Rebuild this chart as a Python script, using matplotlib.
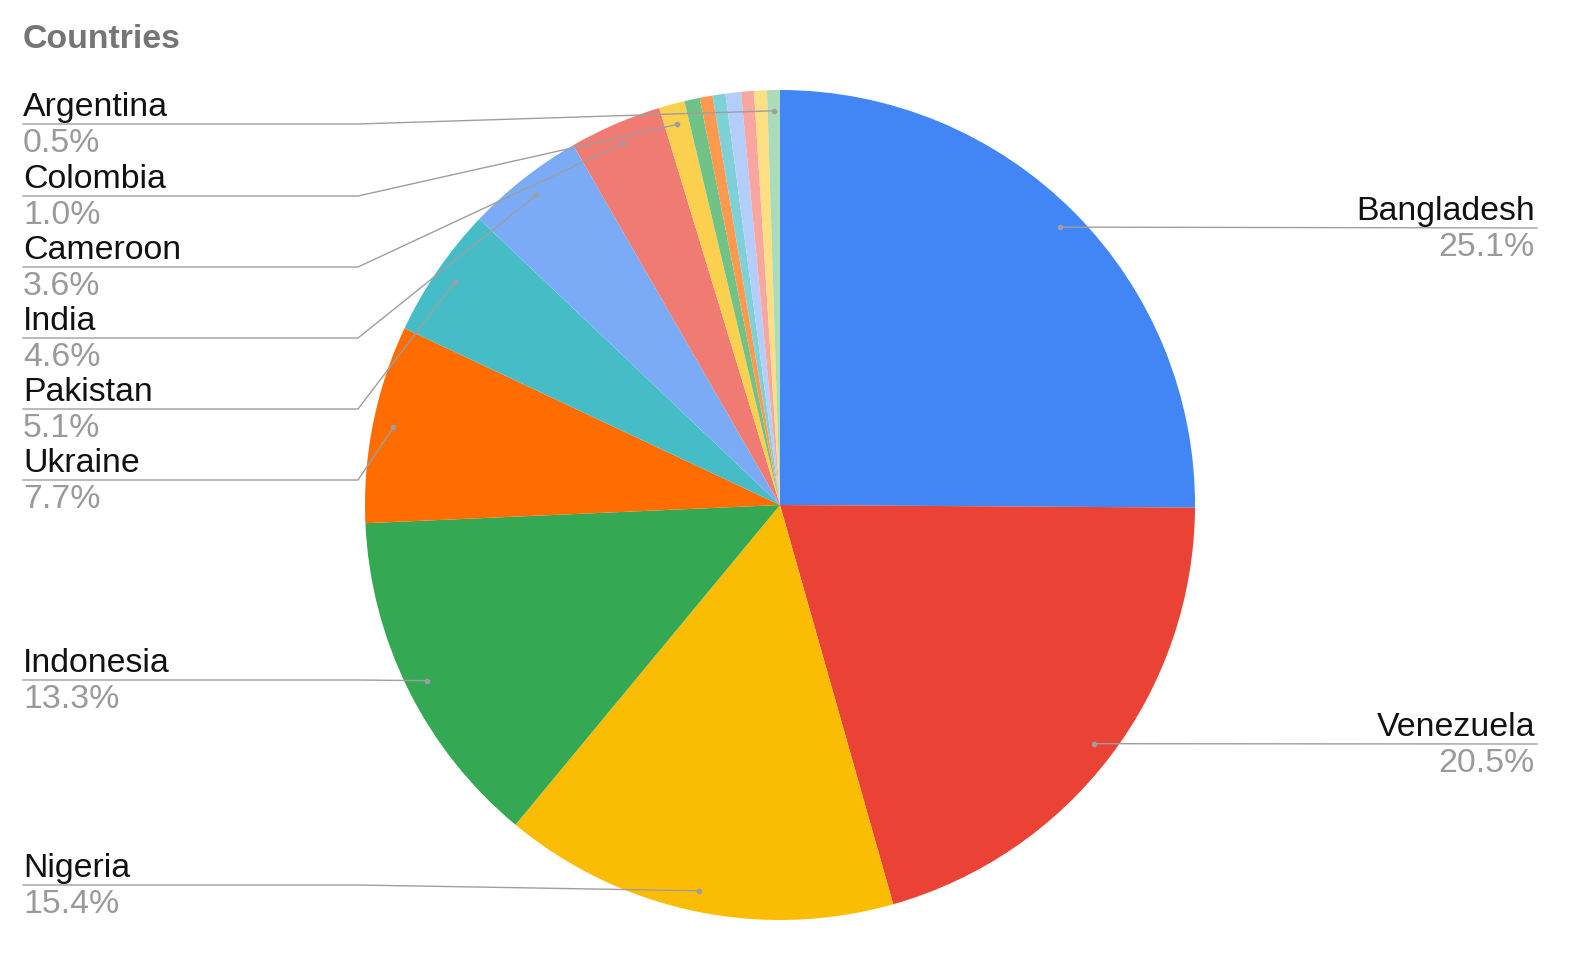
import numpy as np
import matplotlib.pyplot as plt

plt.rcParams['font.family'] = ['Liberation Sans', 'DejaVu Sans']

# slice data, clockwise from 12 o'clock
countries = ['Bangladesh', 'Venezuela', 'Nigeria', 'Indonesia', 'Ukraine', 'Pakistan',
             'India', 'Cameroon', 'Colombia', 'Other 1', 'Other 2', 'Other 3', 'Other 4',
             'Other 5', 'Other 6', 'Argentina']
shares = [25.1, 20.5, 15.4, 13.3, 7.7, 5.1, 4.6, 3.6, 1.0, 0.6, 0.5, 0.5, 0.6, 0.5, 0.5, 0.5]
colors = ['#4285F4', '#EA4335', '#FBBC04', '#34A853', '#FF6D01', '#46BDC6', '#7BAAF7',
          '#F07B72', '#FCD04F', '#71C287', '#FF994D', '#7ED1D7', '#B3CEFB', '#F7A7A0',
          '#FDDE82', '#AADCB9']

# labelled slices: side and y of the underline (pixels from top)
label_pos = {
    'Argentina': ('left', 124), 'Colombia': ('left', 196), 'Cameroon': ('left', 267),
    'India': ('left', 338), 'Pakistan': ('left', 409), 'Ukraine': ('left', 480),
    'Indonesia': ('left', 680), 'Nigeria': ('left', 885),
    'Bangladesh': ('right', 228), 'Venezuela': ('right', 744),
}

W, H = 1576, 959
cx, cy, R = 780, H - 505, 415


def Y(py):
    return H - py


fig = plt.figure(figsize=(W / 100, H / 100), dpi=100)
ax = fig.add_axes([0, 0, 1, 1])
wedges, _ = ax.pie(shares, colors=colors, startangle=90, counterclock=False,
                   center=(cx, cy), radius=R, wedgeprops=dict(linewidth=0))
ax.set_xlim(0, W)
ax.set_ylim(0, H)
ax.set_aspect('equal')
ax.set_axis_off()

line_c = '#9e9e9e'
fs = 24.4
for w, name, val in zip(wedges, countries, shares):
    if name not in label_pos:
        continue
    side, ly = label_pos[name]
    mid = np.deg2rad((w.theta1 + w.theta2) / 2)
    px, py = cx + 0.95 * R * np.cos(mid), cy + 0.95 * R * np.sin(mid)
    if side == 'left':
        ax.plot([23, 358, px], [Y(ly), Y(ly), py], color=line_c, lw=1, zorder=3)
        ax.text(23, Y(ly) + 8, name, fontsize=fs, color='#111111', ha='left', va='baseline')
        ax.text(23, Y(ly) - 28, f'{val:.1f}%', fontsize=fs, color='#9a9a9a',
                ha='left', va='baseline')
    else:
        ax.plot([px, 1537], [py, Y(ly)], color=line_c, lw=1, zorder=3)
        ax.text(1535, Y(ly) + 8, name, fontsize=fs, color='#111111', ha='right', va='baseline')
        ax.text(1535, Y(ly) - 28, f'{val:.1f}%', fontsize=fs, color='#9a9a9a',
                ha='right', va='baseline')
    ax.plot(px, py, 'o', ms=3, color='#9e9e9e', zorder=4)

ax.text(23, Y(48), 'Countries', fontsize=fs, fontweight='bold', color='#757575',
        ha='left', va='baseline')

fig.savefig('out.png', dpi=100)
